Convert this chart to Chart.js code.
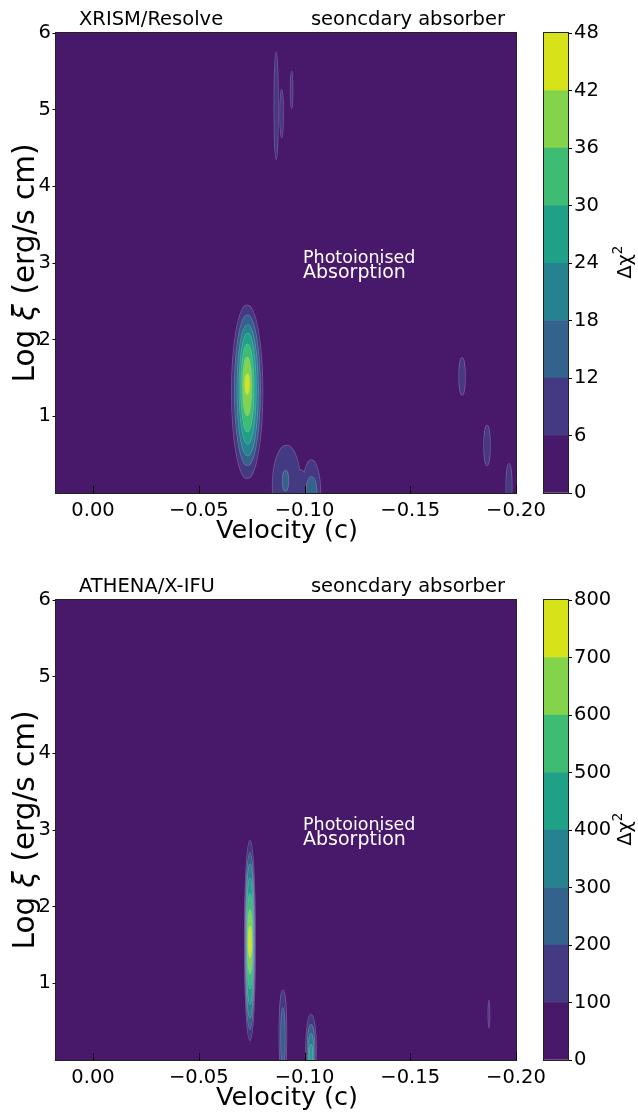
<!DOCTYPE html>
<html>
<head>
<meta charset="utf-8">
<script src="https://cdn.jsdelivr.net/npm/chart.js@4.4.1/dist/chart.umd.min.js"></script>
<style>
  html, body { margin: 0; padding: 0; background: #fff; }
  #wrap { position: relative; width: 638px; height: 1112px; }
  canvas { position: absolute; }
</style>
</head>
<body>
<div id="wrap">
  <canvas id="xrism" width="560" height="567" style="left:0;top:0"></canvas>
  <canvas id="xrismBar" width="108" height="567" style="left:530px;top:0"></canvas>
  <canvas id="athena" width="560" height="545" style="left:0;top:567px"></canvas>
  <canvas id="athenaBar" width="108" height="545" style="left:530px;top:567px"></canvas>
</div>
<script>
// axis ticks
const velTicks = [0, -0.05, -0.10, -0.15, -0.20];
const xiTicks = [1, 2, 3, 4, 5, 6];

// colour levels (delta chi^2)
const xrismLevels = [0, 6, 12, 18, 24, 30, 36, 42, 48];
const athenaLevels = [0, 100, 200, 300, 400, 500, 600, 700, 800];
const viridis8 = ['#48186a', '#443a83', '#33638d', '#26828e', '#1fa188', '#3fbc73', '#84d44b', '#d8e219'];

// contour ellipses: [velocity, log xi, half dv, half dxi, level index]
const xrismContours = [
  [-0.0729, 1.32, 0.0073, 1.13, 1],
  [-0.0730, 1.34, 0.0060, 0.98, 2],
  [-0.0731, 1.34, 0.0049, 0.85, 3],
  [-0.0731, 1.36, 0.0039, 0.72, 4],
  [-0.0730, 1.37, 0.0030, 0.57, 5],
  [-0.0729, 1.39, 0.0020, 0.38, 6],
  [-0.0729, 1.42, 0.0010, 0.13, 7],
  [-0.0915, 0.10, 0.0066, 0.52, 1],
  [-0.0976, 0.00, 0.0050, 0.30, 1],
  [-0.1033, 0.00, 0.0042, 0.43, 1],
  [-0.0910, 0.16, 0.0014, 0.13, 2],
  [-0.1033, 0.03, 0.0024, 0.18, 2],
  [-0.0866, 5.05, 0.0009, 0.70, 1],
  [-0.0892, 4.95, 0.0007, 0.31, 1],
  [-0.0939, 5.26, 0.0005, 0.24, 1],
  [-0.1745, 1.52, 0.0014, 0.24, 1],
  [-0.1863, 0.62, 0.0014, 0.26, 1],
  [-0.1967, 0.10, 0.0013, 0.28, 1]
];
const athenaContours = [
  [-0.0742, 1.56, 0.0025, 1.30, 1],
  [-0.0742, 1.55, 0.0021, 1.15, 2],
  [-0.0742, 1.55, 0.0018, 1.00, 3],
  [-0.0742, 1.55, 0.0015, 0.82, 4],
  [-0.0742, 1.55, 0.0012, 0.62, 5],
  [-0.0742, 1.54, 0.0010, 0.42, 6],
  [-0.0742, 1.54, 0.0007, 0.20, 7],
  [-0.0898, 0.35, 0.0017, 0.56, 1],
  [-0.0898, 0.30, 0.0009, 0.38, 2],
  [-0.1031, 0.15, 0.0024, 0.44, 1],
  [-0.1031, 0.12, 0.0017, 0.34, 2],
  [-0.1031, 0.10, 0.0011, 0.24, 3],
  [-0.1031, 0.08, 0.0006, 0.12, 4],
  [-0.1872, 0.60, 0.0003, 0.18, 1]
];

const FONT = 'DejaVu Sans';
Chart.defaults.font.family = FONT;
Chart.defaults.color = '#000';

const fmtVel = v => (Math.abs(v) < 1e-9 ? '0.00' : '\u2212' + Math.abs(v).toFixed(2));

const contourPlugin = {
  id: 'contours',
  beforeDatasetsDraw(chart, args, opts) {
    const { ctx, chartArea: a, scales: { x, y } } = chart;
    ctx.save();
    ctx.beginPath();
    ctx.rect(a.left, a.top, a.width, a.height);
    ctx.clip();
    ctx.fillStyle = viridis8[0];
    ctx.fillRect(a.left, a.top, a.width, a.height);
    const ellipse = c => {
      const cx = x.getPixelForValue(c[0]);
      const cy = y.getPixelForValue(c[1]);
      const rx = Math.abs(x.getPixelForValue(c[0] + c[2]) - cx);
      const ry = Math.abs(y.getPixelForValue(c[1] + c[3]) - cy);
      ctx.moveTo(cx + rx, cy);
      ctx.ellipse(cx, cy, rx, ry, 0, 0, Math.PI * 2);
    };
    for (let lev = 1; lev < viridis8.length; lev++) {
      const set = opts.contours.filter(c => c[4] === lev);
      if (!set.length) continue;
      // light edge first, fill over it so only the outer rim stays
      ctx.beginPath();
      set.forEach(ellipse);
      ctx.strokeStyle = 'rgba(255,255,255,0.28)';
      ctx.lineWidth = 1.4;
      ctx.stroke();
      ctx.beginPath();
      set.forEach(ellipse);
      ctx.fillStyle = viridis8[lev];
      ctx.fill();
    }
    ctx.restore();
  },
  afterDatasetsDraw(chart, args, opts) {
    const { ctx, chartArea: a, scales: { x } } = chart;
    ctx.save();
    // frame
    ctx.strokeStyle = '#222';
    ctx.lineWidth = 1;
    ctx.strokeRect(a.left - 0.5, a.top - 0.5, a.width + 1, a.height + 1);
    // inward ticks on x axis
    ctx.strokeStyle = '#000';
    velTicks.forEach(v => {
      const px = Math.round(x.getPixelForValue(v)) + 0.5;
      ctx.beginPath();
      ctx.moveTo(px, a.bottom);
      ctx.lineTo(px, a.bottom - 7);
      ctx.stroke();
    });
    ctx.fillStyle = '#000';
    ctx.textBaseline = 'alphabetic';
    // titles
    ctx.font = '19.5px "' + FONT + '"';
    ctx.textAlign = 'left';
    ctx.fillText(opts.title, 79, a.top - 8);
    ctx.textAlign = 'right';
    ctx.fillText('seoncdary absorber', 505, a.top - 8);
    // annotation
    ctx.fillStyle = '#fff';
    ctx.textAlign = 'left';
    ctx.font = '17.5px "' + FONT + '"';
    ctx.fillText('Photoionised', 303, a.top + 230);
    ctx.font = '19px "' + FONT + '"';
    ctx.fillText('Absorption', 303, a.top + 245);
    // x axis title
    ctx.fillStyle = '#000';
    ctx.textAlign = 'center';
    ctx.font = '25.5px "' + FONT + '"';
    ctx.fillText('Velocity (c)', 287, a.bottom + 45);
    // y axis title with italic xi
    const cy = (a.top + a.bottom) / 2;
    const parts = [['Log ', ''], ['\u03be', 'italic '], [' (erg/s cm)', '']];
    const yFont = '29.5px "' + FONT + '"';
    let total = 0;
    parts.forEach(p => { ctx.font = p[1] + yFont; total += ctx.measureText(p[0]).width; });
    ctx.translate(34, cy);
    ctx.rotate(-Math.PI / 2);
    ctx.textAlign = 'left';
    let pos = -total / 2;
    parts.forEach(p => {
      ctx.font = p[1] + yFont;
      ctx.fillText(p[0], pos, 0);
      pos += ctx.measureText(p[0]).width;
    });
    ctx.restore();
  }
};

// plot area: 460 px tall, 33 px below the canvas top, x from 56 to 516
function contourChart(id, title, contours) {
  const el = document.getElementById(id);
  return new Chart(el, {
    type: 'scatter',
    data: { datasets: [] },
    options: {
      responsive: false,
      animation: false,
      layout: { padding: { top: 33, right: el.width - 516, left: 0, bottom: 0 } },
      plugins: {
        legend: { display: false },
        tooltip: { enabled: false },
        contours: { title: title, contours: contours }
      },
      scales: {
        x: {
          type: 'linear',
          reverse: true,
          min: -0.2,
          max: 0.0175,
          afterBuildTicks: s => { s.ticks = velTicks.map(v => ({ value: v })); },
          afterFit: s => {
            s.height = el.height - 33 - 460;
            s.paddingLeft = 0; s.paddingRight = 0;
          },
          grid: { drawOnChartArea: false, drawTicks: false },
          border: { display: false },
          ticks: { padding: 6, font: { size: 19.5 }, maxRotation: 0, callback: v => fmtVel(v) }
        },
        y: {
          min: 0,
          max: 6,
          afterBuildTicks: s => { s.ticks = xiTicks.map(v => ({ value: v })); },
          afterFit: s => {
            s.width = 56;
            s.paddingTop = 0; s.paddingBottom = 0;
          },
          grid: { drawOnChartArea: false, tickLength: 3.5, color: '#000' },
          border: { display: false },
          ticks: { padding: 1.5, font: { size: 19.5 } }
        }
      }
    },
    plugins: [contourPlugin]
  });
}

const colorbarPlugin = {
  id: 'cbar',
  afterDraw(chart) {
    const { ctx, chartArea: a } = chart;
    ctx.save();
    ctx.strokeStyle = '#222';
    ctx.lineWidth = 1;
    ctx.strokeRect(a.left - 0.5, a.top - 0.5, a.width + 1, a.height + 1);
    ctx.fillStyle = '#000';
    ctx.translate(101, (a.top + a.bottom) / 2);
    ctx.rotate(-Math.PI / 2);
    ctx.font = '19.5px "' + FONT + '"';
    const w = ctx.measureText('\u0394\u03c7').width;
    const w2 = 7;
    ctx.textAlign = 'left';
    ctx.textBaseline = 'alphabetic';
    ctx.fillText('\u0394\u03c7', -(w + w2) / 2, 0);
    ctx.font = '13.5px "' + FONT + '"';
    ctx.fillText('2', -(w + w2) / 2 + w, -9);
    ctx.restore();
  }
};

function colorbar(id, levels) {
  const el = document.getElementById(id);
  return new Chart(el, {
    type: 'bar',
    data: {
      labels: [''],
      datasets: viridis8.map((c, i) => ({
        data: [levels[i + 1] - levels[i]],
        backgroundColor: c,
        borderWidth: 0,
        barPercentage: 1,
        categoryPercentage: 1
      }))
    },
    options: {
      responsive: false,
      animation: false,
      layout: { padding: { top: 33, left: 14, right: 0, bottom: el.height - 33 - 460 } },
      plugins: { legend: { display: false }, tooltip: { enabled: false } },
      scales: {
        x: { stacked: true, display: false },
        y: {
          stacked: true,
          position: 'right',
          min: 0,
          max: levels[levels.length - 1],
          afterBuildTicks: s => { s.ticks = levels.map(v => ({ value: v })); },
          afterFit: s => { s.width = 70; s.paddingTop = 0; s.paddingBottom = 0; },
          grid: { drawOnChartArea: false, tickLength: 4, color: '#000' },
          border: { display: false },
          ticks: { padding: 2, font: { size: 19.5 } }
        }
      }
    },
    plugins: [colorbarPlugin]
  });
}

contourChart('xrism', 'XRISM/Resolve', xrismContours);
colorbar('xrismBar', xrismLevels);
contourChart('athena', 'ATHENA/X-IFU', athenaContours);
colorbar('athenaBar', athenaLevels);
</script>
</body>
</html>
